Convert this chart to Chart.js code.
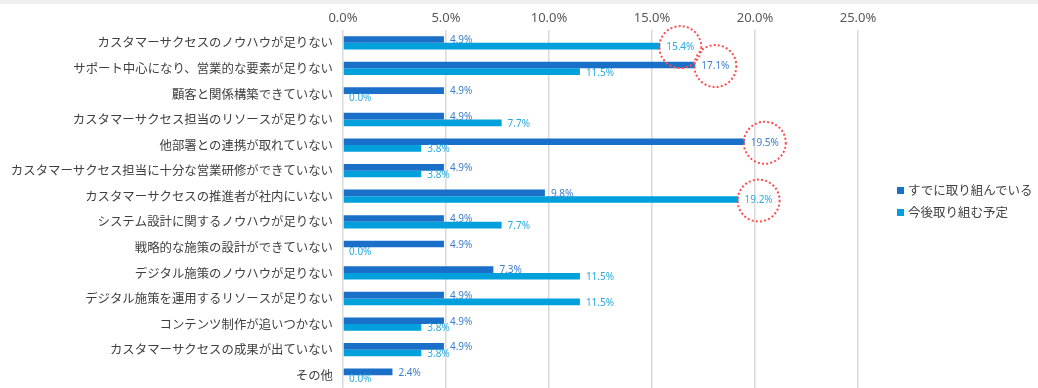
<!DOCTYPE html>
<html>
<head>
<meta charset="utf-8">
<script src="https://cdn.jsdelivr.net/npm/chart.js@4"></script>
<style>
    body { margin: 0; background: #fff; }
    #wrap { position: relative; width: 1038px; height: 388px; }
    #topStrip { position: absolute; left: 0; top: 0; width: 1038px; height: 4px; background: #f0f0f0; }
    #legend { position: absolute; left: 897px; top: 181px; font-family: "Noto Sans CJK JP", sans-serif; font-size: 12.5px; color: #404040; }
    #legend div { height: 22px; line-height: 18px; white-space: nowrap; }
    #legend span { display: inline-block; width: 7px; height: 7px; margin-right: 4px; vertical-align: 1px; }
</style>
</head>
<body>
<div id="wrap">
    <canvas id="surveyChart" width="1038" height="388"></canvas>
    <div id="topStrip"></div>
    <div id="legend"></div>
</div>
<script>
// -------------------------------
// Data
// -------------------------------
const categories = [
    "カスタマーサクセスのノウハウが足りない",
    "サポート中心になり、営業的な要素が足りない",
    "顧客と関係構築できていない",
    "カスタマーサクセス担当のリソースが足りない",
    "他部署との連携が取れていない",
    "カスタマーサクセス担当に十分な営業研修ができていない",
    "カスタマーサクセスの推進者が社内にいない",
    "システム設計に関するノウハウが足りない",
    "戦略的な施策の設計ができていない",
    "デジタル施策のノウハウが足りない",
    "デジタル施策を運用するリソースが足りない",
    "コンテンツ制作が追いつかない",
    "カスタマーサクセスの成果が出ていない",
    "その他"
];
const seriesNames = ["すでに取り組んでいる", "今後取り組む予定"];
const alreadyDoing = [4.9, 17.1, 4.9, 4.9, 19.5, 4.9, 9.8, 4.9, 4.9, 7.3, 4.9, 4.9, 4.9, 2.4];
const planning = [15.4, 11.5, 0.0, 7.7, 3.8, 3.8, 19.2, 7.7, 0.0, 11.5, 11.5, 3.8, 3.8, 0.0];
const xTicks = [0, 5, 10, 15, 20, 25];
// labels circled in red: [dataset, index]
const highlight = [[1, 0], [0, 1], [0, 4], [1, 6]];

const barColors = ["#1a6fc8", "#00a0dc"];
const labelColors = ["#3c7fcc", "#2aaade"];

// -------------------------------
// Legend (HTML)
// -------------------------------
const legend = document.getElementById("legend");
seriesNames.forEach((name, i) => {
    const row = document.createElement("div");
    row.innerHTML = `<span style="background:${barColors[i]}"></span>${name}`;
    legend.appendChild(row);
});

// -------------------------------
// Value labels and red dotted circles
// -------------------------------
const valueLabels = {
    id: "valueLabels",
    afterDatasetsDraw(chart) {
        const ctx = chart.ctx;
        ctx.save();
        ctx.font = "10px 'Noto Sans', sans-serif";
        ctx.textAlign = "left";
        ctx.textBaseline = "middle";
        chart.data.datasets.forEach((ds, di) => {
            const meta = chart.getDatasetMeta(di);
            meta.data.forEach((bar, i) => {
                const text = ds.data[i].toFixed(1) + "%";
                const x = bar.x + 6;
                const y = bar.y + 1;
                ctx.fillStyle = labelColors[di];
                ctx.fillText(text, x, y);
                if (highlight.some(h => h[0] === di && h[1] === i)) {
                    const w = ctx.measureText(text).width;
                    ctx.beginPath();
                    ctx.strokeStyle = "#ff4d4d";
                    ctx.lineWidth = 2;
                    ctx.setLineDash([2, 2.2]);
                    ctx.arc(x + w / 2, y, 21, 0, Math.PI * 2);
                    ctx.stroke();
                    ctx.setLineDash([]);
                }
            });
        });
        ctx.restore();
    }
};

// -------------------------------
// Chart
// -------------------------------
const ctx = document.getElementById("surveyChart").getContext("2d");
new Chart(ctx, {
    type: "bar",
    data: {
        labels: categories,
        datasets: [
            { label: seriesNames[0], data: alreadyDoing, backgroundColor: barColors[0] },
            { label: seriesNames[1], data: planning, backgroundColor: barColors[1] }
        ]
    },
    options: {
        indexAxis: "y",
        responsive: false,
        animation: false,
        layout: { padding: { left: 0, right: 180, top: 0, bottom: 0 } },
        categoryPercentage: 0.52,
        barPercentage: 1.0,
        plugins: {
            legend: { display: false },
            tooltip: { enabled: false }
        },
        scales: {
            x: {
                position: "top",
                min: 0,
                max: 25,
                afterBuildTicks: axis => { axis.ticks = xTicks.map(v => ({ value: v })); },
                afterFit: axis => { axis.height = 30; axis.paddingLeft = 0; axis.paddingRight = 0; },
                ticks: {
                    callback: v => v.toFixed(1) + "%",
                    color: "#595959",
                    font: { family: "'Noto Sans', sans-serif", size: 13 },
                    padding: 4
                },
                grid: { color: "#d9d9d9", lineWidth: 1.5, drawTicks: false },
                border: { display: false }
            },
            y: {
                afterFit: axis => { axis.width = 343; axis.paddingTop = 0; axis.paddingBottom = 0; },
                ticks: {
                    color: "#404040",
                    font: { family: "'Noto Sans CJK JP', sans-serif", size: 12.4 },
                    padding: 10
                },
                grid: { display: false, drawTicks: false },
                border: { display: false }
            }
        }
    },
    plugins: [valueLabels]
});
</script>
</body>
</html>
